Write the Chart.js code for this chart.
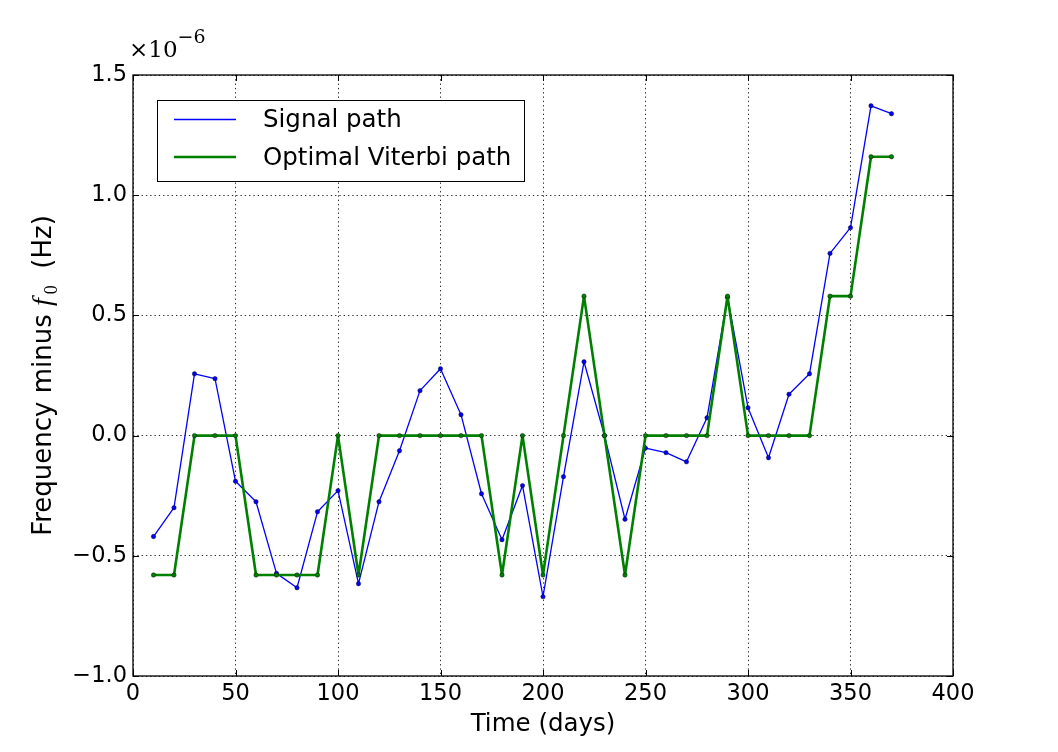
<!DOCTYPE html>
<html>
<head>
    <meta charset="utf-8">
    <title>Signal path vs Optimal Viterbi path</title>
    <script src="https://cdn.jsdelivr.net/npm/chart.js"></script>
    <style>
        html, body { margin: 0; padding: 0; background: #fff; }
    </style>
</head>
<body>
    <canvas id="pathChart" width="1058" height="752"></canvas>

    <script>
    // Данные (частота в единицах 1e-6 Гц)
    const days = [10, 20, 30, 40, 50, 60, 70, 80, 90, 100, 110, 120, 130, 140, 150, 160, 170, 180, 190,
                  200, 210, 220, 230, 240, 250, 260, 270, 280, 290, 300, 310, 320, 330, 340, 350, 360, 370];
    const signalPath = [-0.42, -0.30, 0.257, 0.237, -0.19, -0.275, -0.573, -0.633, -0.317, -0.229,
                        -0.616, -0.275, -0.063, 0.187, 0.278, 0.087, -0.242, -0.433, -0.208, -0.67,
                        -0.171, 0.307, 0.0, -0.348, -0.052, -0.071, -0.109, 0.074, 0.575, 0.116,
                        -0.092, 0.172, 0.257, 0.758, 0.865, 1.372, 1.339];
    const viterbiPath = [-0.58, -0.58, 0, 0, 0, -0.58, -0.58, -0.58, -0.58, 0,
                         -0.58, 0, 0, 0, 0, 0, 0, -0.58, 0, -0.58,
                         0, 0.58, 0, -0.58, 0, 0, 0, 0, 0.58, 0,
                         0, 0, 0, 0.58, 0.58, 1.16, 1.16];
    const xTicks = [0, 50, 100, 150, 200, 250, 300, 350, 400];
    const yTicks = [-1.0, -0.5, 0.0, 0.5, 1.0, 1.5];
    const seriesLabels = ['Signal path', 'Optimal Viterbi path'];
    const seriesColors = ['#0000ff', '#008000'];
    const xTitle = 'Time (days)';
    const yTitleParts = ['Frequency minus ', 'f', '0', '  (Hz)'];
    const multiplierParts = ['\u00d710', '\u22126'];

    const SANS = '"DejaVu Sans", sans-serif';

    // Рамка, внутренние засечки, легенда и подписи
    const decorPlugin = {
        id: 'decor',
        afterDraw(chart) {
            const ctx = chart.ctx;
            const ca = chart.chartArea;
            const xs = chart.scales.x, ys = chart.scales.y;
            ctx.save();

            // засечки внутрь со всех четырёх сторон
            ctx.strokeStyle = '#000';
            ctx.lineWidth = 1;
            ctx.beginPath();
            xs.ticks.forEach(t => {
                const px = Math.round(xs.getPixelForValue(t.value)) + 0.5;
                ctx.moveTo(px, ca.bottom); ctx.lineTo(px, ca.bottom - 6);
                ctx.moveTo(px, ca.top); ctx.lineTo(px, ca.top + 6);
            });
            ys.ticks.forEach(t => {
                const py = Math.round(ys.getPixelForValue(t.value)) + 0.5;
                ctx.moveTo(ca.left, py); ctx.lineTo(ca.left + 6, py);
                ctx.moveTo(ca.right, py); ctx.lineTo(ca.right - 6, py);
            });
            ctx.stroke();

            // рамка
            ctx.lineWidth = 1.3;
            ctx.strokeRect(ca.left, ca.top, ca.right - ca.left, ca.bottom - ca.top);

            // легенда
            const lx = 157, ly = 100, lw = 367, lh = 81;
            ctx.fillStyle = '#fff';
            ctx.fillRect(lx, ly, lw, lh);
            ctx.lineWidth = 1;
            ctx.strokeStyle = '#000';
            ctx.strokeRect(lx + 0.5, ly + 0.5, lw, lh);
            chart.data.datasets.forEach((ds, i) => {
                const y = 119.5 + i * 37.5;
                ctx.strokeStyle = ds.borderColor;
                ctx.lineWidth = ds.borderWidth;
                ctx.beginPath();
                ctx.moveTo(174, y); ctx.lineTo(236, y);
                ctx.stroke();
                ctx.fillStyle = '#000';
                ctx.font = '24.5px ' + SANS;
                ctx.textAlign = 'left';
                ctx.textBaseline = 'middle';
                ctx.fillText(ds.label, 263, y + 1.5);
            });

            // множитель оси Y
            ctx.fillStyle = '#000';
            ctx.textAlign = 'left';
            ctx.textBaseline = 'alphabetic';
            ctx.font = '23px "DejaVu Serif", serif';
            ctx.fillText(multiplierParts[0], 129, 57);
            const mw = ctx.measureText(multiplierParts[0]).width;
            ctx.font = '19px "DejaVu Serif", serif';
            ctx.fillText(multiplierParts[1], 129 + mw, 43);

            // подпись оси Y с f_0
            const fonts = ['26px ' + SANS, 'italic 28px "Liberation Serif", serif',
                           '18px "Liberation Serif", serif', '26px ' + SANS];
            const shifts = [0, 0, 6, 0];
            const widths = yTitleParts.map((s, i) => { ctx.font = fonts[i]; return ctx.measureText(s).width; });
            const total = widths.reduce((a, b) => a + b, 0) + 4;
            ctx.translate(51, (ca.top + ca.bottom) / 2);
            ctx.rotate(-Math.PI / 2);
            let cx = -total / 2;
            yTitleParts.forEach((s, i) => {
                ctx.font = fonts[i];
                ctx.fillText(s, cx, shifts[i]);
                cx += widths[i] + (i === 1 ? 4 : 0);
            });
            ctx.restore();
        }
    };

    function makeDataset(label, values, color, width, order) {
        return {
            label: label,
            data: days.map((d, i) => ({ x: d, y: values[i] })),
            borderColor: color,
            backgroundColor: color,
            borderWidth: width,
            borderJoinStyle: 'round',
            borderCapStyle: 'round',
            pointRadius: 2.2,
            pointBackgroundColor: color,
            pointBorderColor: 'rgba(0,0,0,0.55)',
            pointBorderWidth: 0.8,
            tension: 0,
            order: order
        };
    }

    const gridOpts = { color: 'rgba(0,0,0,0.85)', lineWidth: 1, drawTicks: false };
    const tickFont = { family: SANS, size: 22.5 };

    new Chart(document.getElementById('pathChart'), {
        type: 'line',
        data: {
            datasets: [
                makeDataset(seriesLabels[0], signalPath, seriesColors[0], 1.3, 1),
                makeDataset(seriesLabels[1], viterbiPath, seriesColors[1], 2.6, 0)
            ]
        },
        options: {
            responsive: false,
            devicePixelRatio: 1,
            animation: false,
            layout: { padding: { left: 0, right: 105, top: 75, bottom: 0 } },
            plugins: {
                legend: { display: false },
                tooltip: { enabled: false }
            },
            scales: {
                x: {
                    type: 'linear',
                    min: xTicks[0],
                    max: xTicks[xTicks.length - 1],
                    afterBuildTicks: s => { s.ticks = xTicks.map(v => ({ value: v })); },
                    afterFit: s => { s.height = 76; },
                    ticks: {
                        autoSkip: false,
                        maxRotation: 0,
                        padding: 5,
                        color: '#000',
                        font: tickFont,
                        callback: v => String(v)
                    },
                    grid: gridOpts,
                    border: { display: false, dash: [1.3, 3] },
                    title: {
                        display: true,
                        text: xTitle,
                        color: '#000',
                        font: { family: SANS, size: 24.5 },
                        padding: { top: 0, bottom: 13 }
                    }
                },
                y: {
                    type: 'linear',
                    min: yTicks[0],
                    max: yTicks[yTicks.length - 1],
                    afterBuildTicks: s => { s.ticks = yTicks.map(v => ({ value: v })); },
                    afterFit: s => { s.width = 133; },
                    ticks: {
                        padding: 6,
                        color: '#000',
                        font: tickFont,
                        callback: v => v.toFixed(1).replace('-', '\u2212')
                    },
                    grid: gridOpts,
                    border: { display: false, dash: [1.3, 3] }
                }
            }
        },
        plugins: [decorPlugin]
    });
    </script>
</body>
</html>
